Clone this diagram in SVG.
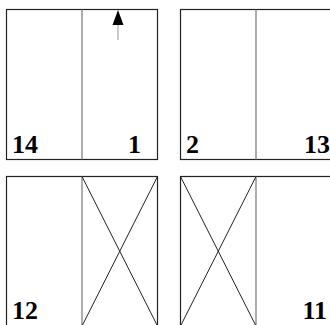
<svg xmlns="http://www.w3.org/2000/svg" width="330" height="325" viewBox="0 0 330 325">
<style>
.frame{fill:none;stroke:#222;stroke-width:1.2}
.fold{fill:none;stroke:#777;stroke-width:1.2}
.x{fill:none;stroke:#222;stroke-width:1}
.num{font-weight:bold;font-size:26px;fill:#000}
.tail{stroke:#aaa;stroke-width:1.2}
.head{fill:#000}
</style>
<g font-family="Liberation Serif, Times New Roman, serif">
<g id="page-top-left">
<rect class="frame" x="6.5" y="9.5" width="151" height="150"/>
<line class="fold" x1="82" y1="9.5" x2="82" y2="159.5"/>
<text class="num" x="12" y="153" font-family="Liberation Serif, serif">14</text>
<text class="num" x="141" y="153" text-anchor="end" font-family="Liberation Serif, serif">1</text>
</g>
<g id="page-top-right">
<rect class="frame" x="180.5" y="9.5" width="200" height="150"/>
<line class="fold" x1="256" y1="9.5" x2="256" y2="159.5"/>
<text class="num" x="186" y="153" font-family="Liberation Serif, serif">2</text>
<text class="num" x="330" y="153" text-anchor="end" font-family="Liberation Serif, serif">13</text>
</g>
<g id="page-bottom-left">
<rect class="frame" x="6.5" y="176.5" width="151" height="200"/>
<line class="fold" x1="82" y1="176.5" x2="82" y2="330"/>
<line class="x" x1="82" y1="176.5" x2="157.5" y2="326"/>
<line class="x" x1="157.5" y1="176.5" x2="82" y2="326"/>
<text class="num" x="12" y="319" font-family="Liberation Serif, serif">12</text>
</g>
<g id="page-bottom-right">
<rect class="frame" x="180.5" y="176.5" width="200" height="200"/>
<line class="fold" x1="256" y1="176.5" x2="256" y2="330"/>
<line class="x" x1="180.5" y1="176.5" x2="256" y2="326"/>
<line class="x" x1="256" y1="176.5" x2="180.5" y2="326"/>
<text class="num" x="327" y="319" text-anchor="end" font-family="Liberation Serif, serif">11</text>
</g>
</g>
<g id="connectors">
<line class="tail" x1="118" y1="40" x2="118" y2="25"/>
<path class="head" d="M112.5,25 L118,10 L123.5,25 Z"/>
</g>
</svg>
